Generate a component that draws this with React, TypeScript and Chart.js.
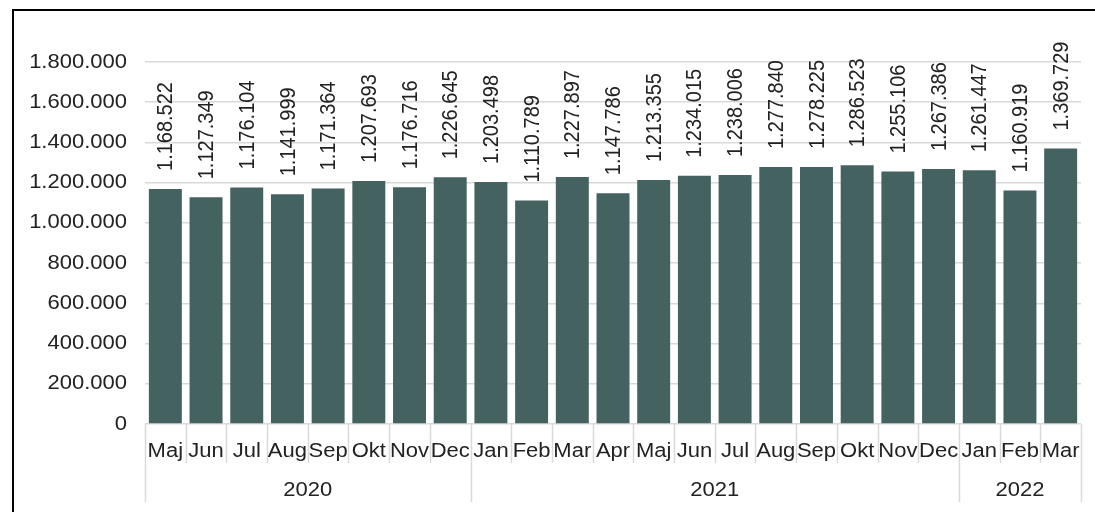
import React, { useEffect, useRef } from "react";
import { Chart, registerables } from "chart.js";

Chart.register(...registerables);

const months = [
  "Maj", "Jun", "Jul", "Aug", "Sep", "Okt", "Nov", "Dec",
  "Jan", "Feb", "Mar", "Apr", "Maj", "Jun", "Jul", "Aug", "Sep", "Okt", "Nov", "Dec",
  "Jan", "Feb", "Mar",
];
const values = [
  1168522, 1127349, 1176104, 1141999, 1171364, 1207693, 1176716, 1226645,
  1203498, 1110789, 1227897, 1147786, 1213355, 1234015, 1238006, 1277840, 1278225, 1286523, 1255106, 1267386,
  1261447, 1160919, 1369729,
];
const years = ["2020", "2021", "2022"];
const yearSpans = [8, 12, 3];

const FONT = "'Liberation Sans', Arial, sans-serif";
const TEXT = "#222222";
const SEP = "#d9d9d9";
const STRETCH = 1.1;

function fmt(v: number): string {
  return Math.round(v).toString().replace(/\B(?=(\d{3})+(?!\d))/g, ".");
}

function drawText(ctx: any, text: string, x: number, y: number, align: string, rotate = false) {
  ctx.save();
  ctx.translate(x, y);
  ctx.scale(STRETCH, 1);
  if (rotate) ctx.rotate(-Math.PI / 2);
  ctx.textAlign = align;
  ctx.textBaseline = "middle";
  ctx.fillText(text, 0, 0);
  ctx.restore();
}

export default function App() {
  const ref = useRef<HTMLCanvasElement | null>(null);

  useEffect(() => {
    document.body.style.margin = "0";
    const canvas = ref.current;
    if (!canvas) return;

    const framePlugin = {
      id: "frame",
      afterDraw(chart: any) {
        const ctx = chart.ctx;
        ctx.save();
        ctx.strokeStyle = "#000";
        ctx.lineWidth = 2;
        ctx.beginPath();
        ctx.moveTo(13, 512);
        ctx.lineTo(13, 10);
        ctx.lineTo(1095, 10);
        ctx.stroke();
        ctx.restore();
      },
    };

    const labelsPlugin = {
      id: "barLabels",
      afterDatasetsDraw(chart: any) {
        const ctx = chart.ctx;
        const meta = chart.getDatasetMeta(0);
        ctx.save();
        ctx.fillStyle = TEXT;
        ctx.font = `20px ${FONT}`;
        meta.data.forEach((bar: any, i: number) => {
          drawText(ctx, fmt(values[i]), bar.x + 1, bar.y - 18, "left", true);
        });
        ctx.restore();
      },
    };

    const axisPlugin = {
      id: "groupAxis",
      afterDraw(chart: any) {
        const ctx = chart.ctx;
        const x = chart.scales.x;
        const y = chart.scales.y;
        const bottom = chart.chartArea.bottom;
        const left = chart.chartArea.left;
        const n = months.length;
        const boundary = (i: number) => {
          if (i <= 0) return x.left;
          if (i >= n) return x.right;
          return (x.getPixelForValue(i - 1) + x.getPixelForValue(i)) / 2;
        };
        const yearStarts = new Set<number>();
        let acc = 0;
        yearStarts.add(0);
        yearSpans.forEach((s) => {
          acc += s;
          yearStarts.add(acc);
        });
        ctx.save();
        ctx.strokeStyle = SEP;
        ctx.lineWidth = 1.5;
        for (let i = 0; i <= n; i++) {
          const px = Math.round(boundary(i)) + 0.5;
          const end = yearStarts.has(i) ? bottom + 78 : bottom + 39;
          ctx.beginPath();
          ctx.moveTo(px, bottom);
          ctx.lineTo(px, end);
          ctx.stroke();
        }
        ctx.fillStyle = TEXT;
        ctx.font = `20px ${FONT}`;
        // y tick labels
        y.ticks.forEach((t: any) => {
          drawText(ctx, fmt(t.value), left - 18, y.getPixelForValue(t.value), "right");
        });
        // month labels
        months.forEach((m, i) => {
          drawText(ctx, m, x.getPixelForValue(i), bottom + 27, "center");
        });
        // year labels
        let start = 0;
        years.forEach((yr, k) => {
          const end = start + yearSpans[k];
          const cx = (boundary(start) + boundary(end)) / 2;
          drawText(ctx, yr, cx, bottom + 66, "center");
          start = end;
        });
        ctx.restore();
      },
    };

    const chart = new Chart(canvas, {
      type: "bar",
      data: {
        labels: months,
        datasets: [
          {
            data: values,
            backgroundColor: "#44625F",
            categoryPercentage: 1,
            barPercentage: 0.81,
          },
        ],
      },
      options: {
        animation: false,
        responsive: false,
        maintainAspectRatio: false,
        layout: { padding: { top: 62, right: 14, bottom: 0, left: 0 } },
        plugins: {
          legend: { display: false },
          tooltip: { enabled: false },
          title: { display: false },
        },
        scales: {
          x: {
            grid: { display: false, drawTicks: false },
            border: { display: false },
            ticks: { display: false, autoSkip: false, maxRotation: 0 },
            afterFit(scale: any) {
              scale.height = 88;
            },
          },
          y: {
            min: 0,
            max: 1800000,
            grid: { color: SEP, lineWidth: 1.5, drawTicks: false },
            border: { display: false },
            ticks: {
              display: false,
              stepSize: 200000,
              callback: (v: any) => fmt(Number(v)),
            },
            afterFit(scale: any) {
              scale.width = 145;
            },
          },
        },
      },
      plugins: [labelsPlugin, axisPlugin, framePlugin],
    });

    return () => chart.destroy();
  }, []);

  return (
    <div style={{ width: 1095, height: 512, background: "#fff" }}>
      <canvas ref={ref} width={1095} height={512} style={{ display: "block" }} />
    </div>
  );
}
